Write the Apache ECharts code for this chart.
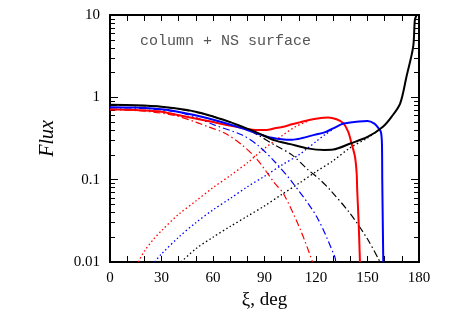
<!DOCTYPE html>
<html>
<head>
<meta charset="utf-8">
<script src="https://cdn.jsdelivr.net/npm/echarts@6/dist/echarts.min.js"></script>
<style>html,body{margin:0;padding:0;background:#fff;}#c{width:463px;height:324px;}</style>
</head>
<body>
<div id="c"></div>
<script>
// ---- data (xi in degrees, Flux) ----
const xLabels = [0, 30, 60, 90, 120, 150, 180];
const yMajor = [0.01, 0.1, 1, 10];
const yLabels = ['0.01', '0.1', '1', '10'];

const blackSolid = [[0,0.81],[15,0.80],[30,0.77],[45,0.70],[57,0.61],[70,0.50],[77,0.44],[86,0.37],[96,0.30],[105,0.27],[115,0.24],[125,0.23],[130,0.232],[140,0.275],[150,0.33],[159,0.44],[164,0.58],[169,0.84],[172.7,1.78],[176.6,4.1],[177.6,8.7],[178.6,10]];
const blueSolid = [[0,0.76],[15,0.75],[30,0.715],[38,0.676],[57,0.556],[77,0.42],[92,0.33],[100,0.31],[106,0.305],[112,0.32],[119,0.35],[125,0.375],[130,0.42],[136,0.48],[145,0.51],[150,0.515],[154,0.48],[156.5,0.42],[157.8,0.38],[158.4,0.28],[158.6,0.1],[158.9,0.03],[159.2,0.01]];
const redSolid = [[0,0.715],[15,0.70],[30,0.67],[38,0.62],[57,0.515],[77,0.425],[86,0.40],[91,0.40],[96,0.42],[101,0.44],[106,0.47],[111,0.50],[116,0.53],[121,0.555],[127,0.57],[132,0.541],[136,0.483],[138.8,0.38],[140.7,0.276],[142.7,0.19],[143.7,0.119],[144,0.075],[144.8,0.032],[145.6,0.01]];

const redDashDot = [[0,0.71],[20,0.68],[38,0.60],[50,0.50],[57,0.44],[67,0.366],[77,0.263],[86,0.173],[96,0.09],[101,0.068],[111,0.0244],[118,0.01]];
const blueDashDot = [[0,0.75],[20,0.73],[40,0.66],[52,0.55],[61,0.46],[77,0.348],[86,0.263],[96,0.165],[106,0.094],[120.4,0.0355],[131,0.0115],[131.5,0.01]];
const blackDashDot = [[0,0.80],[30,0.77],[57,0.61],[77,0.44],[86,0.35],[96,0.263],[106,0.2],[115.5,0.131],[122.3,0.1],[128,0.076],[139.8,0.039],[150,0.019],[157.3,0.01]];

const redDotted = [[16.5,0.01],[20,0.0135],[25,0.0185],[30,0.024],[40,0.038],[50,0.055],[60,0.08],[70,0.112],[80,0.16],[90,0.24],[100,0.34],[108,0.44],[115,0.51]];
const blueDotted = [[26,0.01],[30,0.0125],[40,0.02],[50,0.03],[60,0.043],[70,0.059],[80,0.082],[90,0.11],[100,0.15],[110,0.2],[115,0.24],[120,0.29],[125,0.35],[130,0.41]];
const blackDotted = [[41.5,0.01],[50,0.0145],[60,0.02],[70,0.027],[80,0.036],[90,0.048],[100,0.066],[110,0.09],[120,0.125],[130,0.17],[140,0.245],[150,0.32],[155,0.38]];

// ---- build ----
const yMinor = [];
for (let d = 0; d < yMajor.length - 1; d++) {
  for (let k = 2; k <= 9; k++) yMinor.push(+(yMajor[d] * k).toPrecision(3));
}
const SERIF = '"Liberation Serif", "DejaVu Serif", serif';
const axisLineStyle = { show: true, lineStyle: { color: '#000', width: 2 } };

function yAx(pos, ticks, len, showLabel, extra) {
  return Object.assign({
    type: 'log', logBase: 10, min: 0.01, max: 10, position: pos,
    axisLine: axisLineStyle,
    axisTick: { show: true, inside: true, length: len, customValues: ticks, lineStyle: { color: '#000', width: 1 } },
    axisLabel: showLabel ? {
      show: true, customValues: yMajor, margin: 10, color: '#000', fontFamily: SERIF, fontSize: 15,
      formatter: v => yLabels[yMajor.findIndex(m => Math.abs(m - v) / m < 1e-6)] || ''
    } : { show: false },
    splitLine: { show: false }
  }, extra || {});
}
function xAx(pos, showLabel, extra) {
  return Object.assign({
    type: 'value', min: 0, max: 180, interval: 10, position: pos,
    axisLine: axisLineStyle,
    axisTick: { show: true, inside: true, length: 6, lineStyle: { color: '#000', width: 1 } },
    axisLabel: showLabel ? {
      show: true, customValues: xLabels, margin: 9, color: '#000', fontFamily: SERIF, fontSize: 15
    } : { show: false },
    splitLine: { show: false }
  }, extra || {});
}

function line(data, color, type, width) {
  return {
    type: 'line', data: data, xAxisIndex: 0, yAxisIndex: 0, showSymbol: false, symbol: 'none',
    smooth: 0.3, clip: true, silent: true,
    lineStyle: { color: color, width: width, type: type, cap: 'butt' }
  };
}
const DD = [7, 3, 1.5, 3];
const DOT = [1.5, 2.5];

const chart = echarts.init(document.getElementById('c'), null, { renderer: 'canvas' });
chart.setOption({
  animation: false,
  backgroundColor: '#fff',
  grid: { left: 110, right: 44, top: 15, bottom: 62, containLabel: false },
  xAxis: [
    xAx('bottom', true, { name: 'ξ, deg', nameLocation: 'middle', nameGap: 27,
      nameTextStyle: { fontFamily: SERIF, fontSize: 19, color: '#000' } }),
    xAx('top', false)
  ],
  yAxis: [
    yAx('left', yMajor, 8, true, { name: 'Flux', nameLocation: 'middle', nameGap: 52, nameRotate: 90,
      nameTextStyle: { fontFamily: SERIF, fontSize: 20, fontStyle: 'italic', color: '#000' } }),
    yAx('left', yMinor, 5, false),
    yAx('right', yMajor, 8, false),
    yAx('right', yMinor, 5, false)
  ],
  graphic: [{
    type: 'text', left: 140, top: 34,
    style: { text: 'column + NS surface', font: '15px "Liberation Mono", "DejaVu Sans Mono", monospace', fill: '#555' }
  }],
  series: [
    line(redDotted, '#ff0000', DOT, 1.3),
    line(blueDotted, '#0000ff', DOT, 1.3),
    line(blackDotted, '#000000', DOT, 1.3),
    line(redDashDot, '#ff0000', DD, 1.2),
    line(blueDashDot, '#0000ff', DD, 1.2),
    line(blackDashDot, '#000000', DD, 1.2),
    line(redSolid, '#ff0000', 'solid', 2),
    line(blueSolid, '#0000ff', 'solid', 2),
    line(blackSolid, '#000000', 'solid', 2)
  ]
});
</script>
</body>
</html>
